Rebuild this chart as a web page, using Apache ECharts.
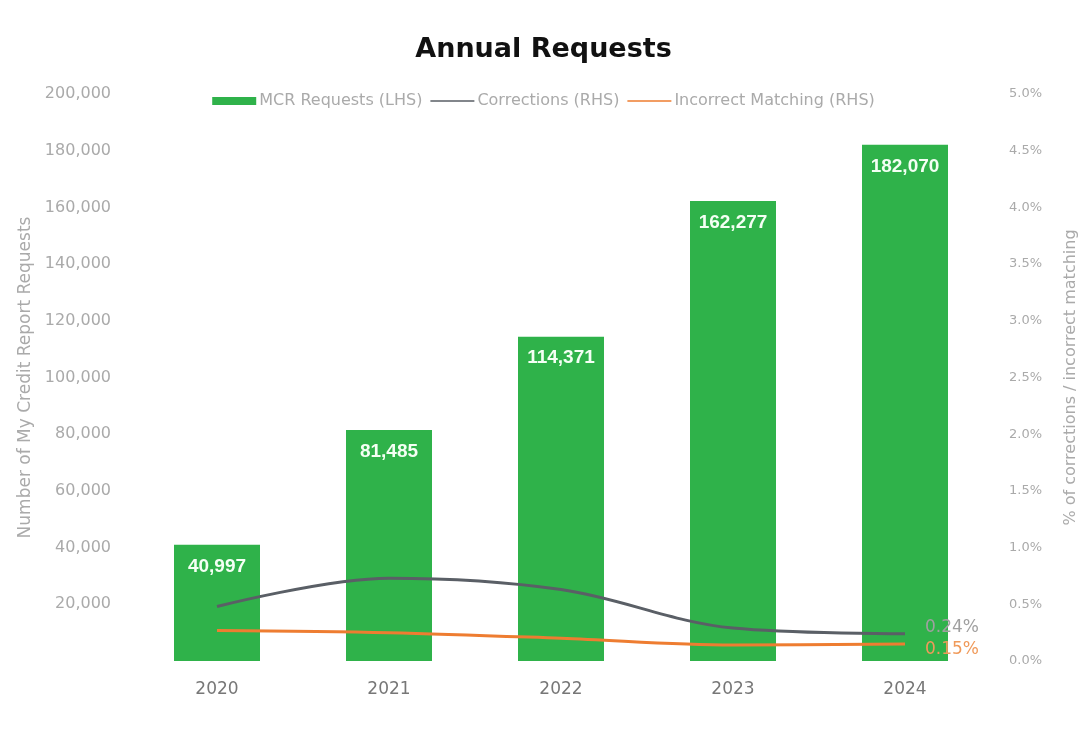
<!DOCTYPE html>
<html><head><meta charset="utf-8">
<script src="https://cdn.jsdelivr.net/npm/echarts@6/dist/echarts.min.js"></script>
<style>html,body{margin:0;padding:0;background:#fff}#c{width:1087px;height:729px}</style>
</head><body><div id="c"></div>
<script>
const categories = ['2020','2021','2022','2023','2024'];
const mcrRequests = [40997, 81485, 114371, 162277, 182070];
const corrections = [0.48, 0.73, 0.63, 0.29, 0.24];
const incorrectMatching = [0.27, 0.25, 0.20, 0.14, 0.15];

const chart = echarts.init(document.getElementById('c'));
const lineIcon = 'path://M0,0 L0.01,0 L0.01,0.01 Z M0,3.2 L44,3.2 L44,4.8 L0,4.8 Z M0,8 L0.01,8 L0.01,7.99 Z';
const endLbl = (color, dy) => ({
  show: true, distance: 20, color: color, fontSize: 17, offset: [0, dy],
  formatter: p => p.value.toFixed(2) + '%'
});
chart.setOption({
  animation: false,
  textStyle: {fontFamily: 'DejaVu Sans, Liberation Sans, Arial, sans-serif'},
  title: {text: 'Annual Requests', left: 'center', top: 31,
    textStyle: {fontSize: 27, fontWeight: 'bold', color: '#111',
      fontFamily: 'DejaVu Sans, Arial, sans-serif'}},
  legend: {top: 88, left: 'center', itemWidth: 44, itemHeight: 8, itemGap: 8,
    textStyle: {color: '#aaa', fontSize: 16, padding: [0, 0, 0, -2]},
    data: [
      {name: 'MCR Requests (LHS)', icon: 'rect'},
      {name: 'Corrections (RHS)', icon: lineIcon},
      {name: 'Incorrect Matching (RHS)', icon: lineIcon}
    ]},
  grid: {left: 131, right: 88, top: 94, bottom: 68},
  xAxis: {type: 'category', data: categories,
    axisLine: {show: false}, axisTick: {show: false},
    axisLabel: {color: '#777', fontSize: 17, margin: 20}},
  yAxis: [
    {type: 'value', min: 0, max: 200000, interval: 20000,
      name: 'Number of My Credit Report Requests', nameLocation: 'middle', nameGap: 97,
      nameTextStyle: {color: '#aaa', fontSize: 17},
      axisLabel: {color: '#aaa', fontSize: 16, margin: 20,
        formatter: v => v === 0 ? '' : v.toLocaleString('en-US')},
      splitLine: {show: false}, axisLine: {show: false}, axisTick: {show: false}},
    {type: 'value', min: 0, max: 5, interval: 0.5,
      name: '% of corrections / incorrect matching', nameLocation: 'middle', nameGap: 72,
      nameRotate: 90,
      nameTextStyle: {color: '#aaa', fontSize: 16},
      axisLabel: {color: '#aaa', fontSize: 13, margin: 18, formatter: v => v.toFixed(1) + '%'},
      splitLine: {show: false}, axisLine: {show: false}, axisTick: {show: false}}
  ],
  series: [
    {name: 'MCR Requests (LHS)', type: 'bar', data: mcrRequests, barWidth: '50%',
      itemStyle: {color: '#2fb24a'},
      label: {show: true, position: 'insideTop', distance: 12, color: '#f4fff4', fontSize: 19,
        fontWeight: 'bold', fontFamily: 'Liberation Sans, Arial, sans-serif',
        formatter: p => p.value.toLocaleString('en-US')}},
    {name: 'Corrections (RHS)', type: 'line', yAxisIndex: 1, data: corrections, smooth: 0.35,
      symbol: 'none', lineStyle: {color: '#5a5f66', width: 3}, itemStyle: {color: '#5a5f66'},
      endLabel: endLbl('#a0a0a0', -6)},
    {name: 'Incorrect Matching (RHS)', type: 'line', yAxisIndex: 1, data: incorrectMatching, smooth: 0.35,
      symbol: 'none', lineStyle: {color: '#ee7d31', width: 3}, itemStyle: {color: '#ee7d31'},
      endLabel: endLbl('#f09a5a', 6)}
  ]
});
</script></body></html>
